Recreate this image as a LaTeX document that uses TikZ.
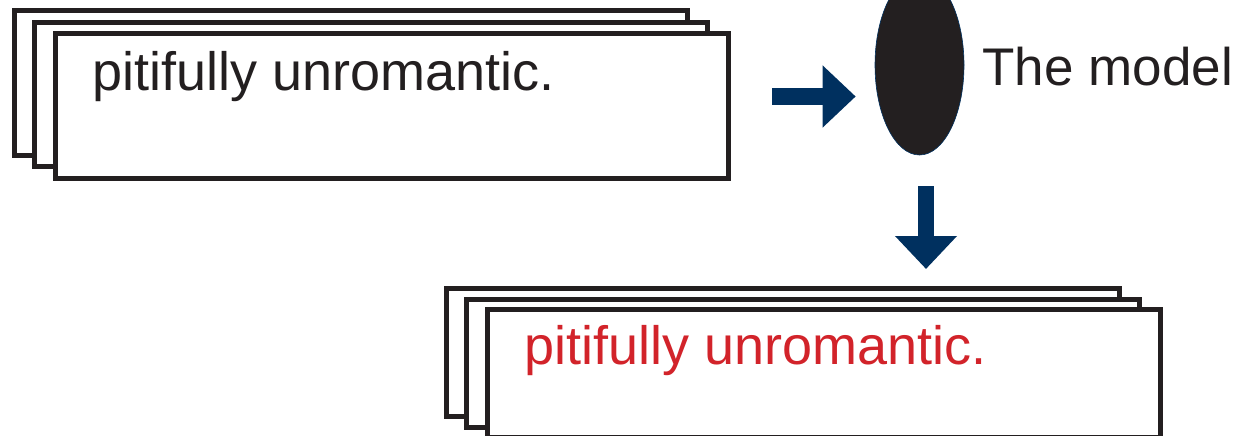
\documentclass[tikz,border=0pt]{standalone}
\usepackage{fontspec}
\setmainfont{Liberation Sans}
\usetikzlibrary{positioning,calc,arrows.meta,shapes.geometric}
\definecolor{navy}{HTML}{00305F}
\definecolor{ink}{HTML}{231F20}
\definecolor{redtext}{HTML}{D2232A}

\begin{document}
\begin{tikzpicture}[x=1pt,y=1pt]
\tikzstyle{page}=[draw=ink,fill=white,line width=5pt,inner sep=0pt,outer sep=0pt,minimum width=673pt]
\tikzstyle{words}=[anchor=base west,inner sep=0pt,font=\fontsize{54}{60}\selectfont]
\tikzstyle{flow}=[draw=navy,line width=16.5pt,-{Triangle[width=60pt,length=33pt]}]

\useasboundingbox (0,0) rectangle (1237,-436);

% input sentences
\node[page,minimum height=144pt,anchor=north west] (inback) at (14,-11) {};
\node[page,minimum height=144pt,below right=11.5pt and 20.5pt of inback.north west] (inmid) {};
\node[page,minimum height=144pt,below right=11.5pt and 20.5pt of inmid.north west] (input) {};
\node[words,text=ink] (intext) at ([shift={(37pt,-57pt)}]input.north west) {pitifully unromantic.};

% model
\node[ellipse,draw=navy,line width=0.6pt,fill=ink,minimum width=89pt,minimum height=180pt,inner sep=0pt] (model) at (919.5,-65) {};
\node[words,text=ink,font=\fontsize{53}{60}\selectfont] (modeltext) at ([shift={(18pt,-20pt)}]model.east) {The model};

% output sentences
\node[page,minimum height=128pt,anchor=north west] (outback) at (446,-288) {};
\node[page,minimum height=128pt,below right=11pt and 20.5pt of outback.north west] (outmid) {};
\node[page,minimum height=128pt,below right=10.5pt and 20.5pt of outmid.north west] (output) {};
\node[words,text=redtext] (outtext) at ([shift={(37pt,-55pt)}]output.north west) {pitifully unromantic.};

\coordinate (in2model) at ([yshift=9.5pt]input.east);
\draw[flow,shorten <=44pt,shorten >=19pt] (in2model) -- (in2model -| model.west);
\coordinate (model2out) at ([xshift=6.5pt]model.south);
\draw[flow,shorten <=31pt,shorten >=19pt] (model2out) -- (model2out |- outback.north);
\end{tikzpicture}
\end{document}
